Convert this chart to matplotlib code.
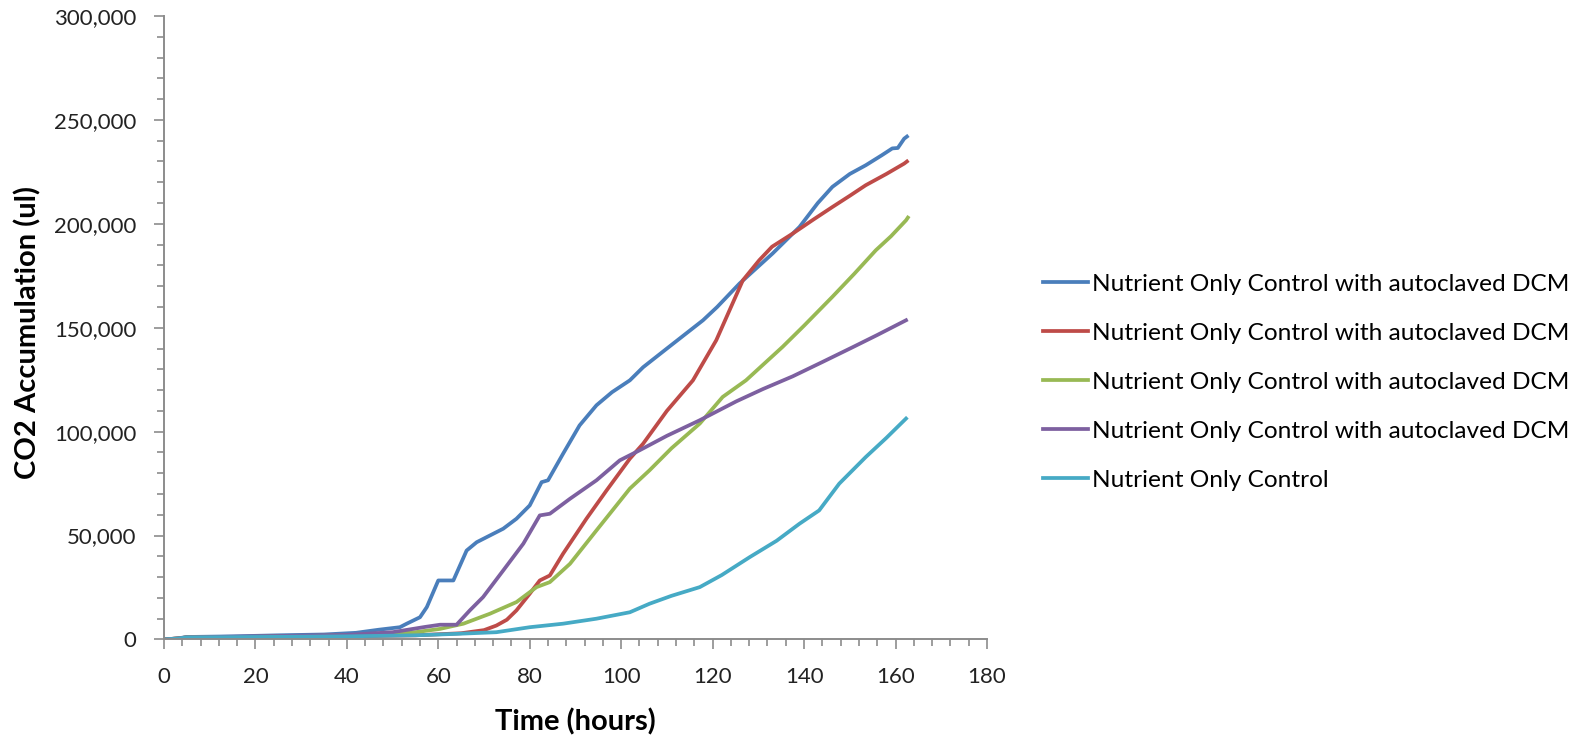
import matplotlib
matplotlib.use("Agg")
import matplotlib.pyplot as plt
from matplotlib.ticker import MultipleLocator, FuncFormatter

plt.rcParams['font.family'] = ['Lato', 'DejaVu Sans']

# ---- data (hours, CO2 in thousands of ul) ----
hours_blue = [0, 3, 5, 15, 25, 35, 42, 47, 51.6, 53.1, 56, 57.5, 60, 63.3, 66.2, 68.4, 74.2, 77.1, 80,
              82.6, 84, 87.3, 90.9, 94.6, 98, 101.9, 104.8, 110, 117.9, 121, 125.9, 133.1, 139, 143,
              146.2, 150, 153.5, 157, 159.3, 160.5, 161.9, 162.5]
co2_blue = [0, 0.5, 1.2, 1.5, 2.0, 2.4, 3.2, 4.7, 5.9, 7.6, 10.7, 15.6, 28.4, 28.4, 42.8, 46.8, 53.3, 58.1,
            64.5, 75.7, 76.6, 89.4, 103, 112.7, 119, 124.7, 131, 140, 153.6, 160, 171.3, 185.7, 198.5,
            210, 217.8, 224, 228.2, 233, 236.3, 236.5, 241, 242]

hours_red = [0, 3, 5, 20, 40, 55, 65, 70, 72.7, 75, 77.1, 80, 82.2, 84.4, 87.3, 92.4, 96.8, 101.9, 104.8,
             110, 115.7, 120.8, 126.6, 130.2, 133, 137.5, 142, 146.2, 150, 153.5, 158, 161.9, 162.5]
co2_red = [0, 0.5, 1.0, 1.2, 1.5, 2.0, 3.0, 4.5, 6.7, 9.5, 14, 22, 28.4, 30.8, 41.3, 58.1, 71.7, 87, 94.2,
           110, 124.7, 144, 172.8, 182.5, 189, 195.3, 202, 208.1, 213.5, 218.6, 224, 229, 230]

hours_green = [0, 3, 5, 20, 40, 55, 60.4, 65.5, 71.3, 77.1, 81.5, 84.4, 88.8, 94.6, 101.9, 106.2, 111,
               117.2, 122.2, 127.3, 135.3, 140, 146.2, 151, 155.7, 159, 162.3, 162.7]
co2_green = [0, 0.5, 1.0, 1.3, 2.0, 3.5, 5.1, 7.6, 12.4, 18, 25.2, 27.6, 36.4, 52.5, 72.6, 81.4, 92,
             103.9, 116.7, 124.7, 140.8, 151, 164.9, 176, 187.3, 194, 201.7, 203]

hours_purple = [0, 3, 5, 20, 40, 50, 54.5, 57, 60.4, 64, 66.9, 69.8, 74.2, 78.6, 82.2, 84.4, 88.8, 94.6,
                99.7, 104, 110, 117.2, 125.2, 131, 137.5, 144, 150.6, 156, 162.3]
co2_purple = [0, 0.5, 1.0, 1.5, 2.2, 3.5, 5.1, 6.0, 7.1, 7.1, 14, 20.4, 33.2, 46.1, 59.7, 60.5, 67.7, 76.6,
              86.2, 91, 98, 105.5, 114.6, 120.5, 126.6, 133.5, 140.6, 146.5, 153.6]

hours_cyan = [0, 3, 5, 20, 40, 55, 64, 72.7, 80, 87.3, 94.6, 101.9, 106.2, 111, 117.2, 122, 128.1, 134,
              139, 143.3, 147.7, 153.5, 158, 162.3]
co2_cyan = [0, 0.4, 1.0, 1.2, 1.5, 2.0, 2.7, 3.5, 5.9, 7.6, 10, 13.1, 17.2, 21, 25.2, 31, 39.6, 47.5,
            55.7, 62.1, 75, 87.8, 97, 106.3]

labels = ["Nutrient Only Control with autoclaved DCM",
          "Nutrient Only Control with autoclaved DCM",
          "Nutrient Only Control with autoclaved DCM",
          "Nutrient Only Control with autoclaved DCM",
          "Nutrient Only Control"]
colors = ["#4A7EBB", "#BE4B48", "#98B954", "#7D60A0", "#46AAC5"]

series = [(hours_blue, co2_blue), (hours_red, co2_red), (hours_green, co2_green),
          (hours_purple, co2_purple), (hours_cyan, co2_cyan)]

fig = plt.figure(figsize=(15.87, 7.38), dpi=100)
ax = fig.add_axes([0.1033, 0.1335, 0.5186, 0.8448])

handles = []
for (h, v), c, lab in zip(series, colors, labels):
    ln, = ax.plot(h, [x * 1000 for x in v], color=c, lw=2.7, label=lab, solid_joinstyle='round')
    handles.append(ln)

ax.set_xlim(0, 180)
ax.set_ylim(0, 300000)
ax.xaxis.set_major_locator(MultipleLocator(20))
ax.xaxis.set_minor_locator(MultipleLocator(4))
ax.yaxis.set_major_locator(MultipleLocator(50000))
ax.yaxis.set_minor_locator(MultipleLocator(10000))
ax.yaxis.set_major_formatter(FuncFormatter(lambda v, p: f"{int(v):,}"))

for s in ['top', 'right']:
    ax.spines[s].set_visible(False)
for s in ['left', 'bottom']:
    ax.spines[s].set_color('#8C8C8C')
    ax.spines[s].set_linewidth(1.4)

ax.tick_params(which='major', direction='out', length=7, width=1.2, color='#8C8C8C',
               labelsize=16, labelcolor='#222222')
ax.tick_params(which='minor', direction='out', length=5, width=1.2, color='#8C8C8C')
ax.tick_params(axis='y', which='major', pad=13)
ax.tick_params(axis='x', which='major', pad=13)

ax.set_xlabel("Time (hours)", fontsize=21, fontweight='bold', va='center')
ax.xaxis.set_label_coords(0.5004, -0.1326)
ax.set_ylabel("CO2 Accumulation (ul)", fontsize=21, fontweight='bold', va='center')
ax.yaxis.set_label_coords(-0.165, 0.493)

fig.legend(handles, labels, loc='center left', bbox_to_anchor=(1043 / 1587, 1 - 382 / 738),
           frameon=False, fontsize=17.6, handlelength=1.85, handletextpad=0.15, labelspacing=1.14,
           borderpad=0, borderaxespad=0)

fig.savefig("out.png", dpi=100)
